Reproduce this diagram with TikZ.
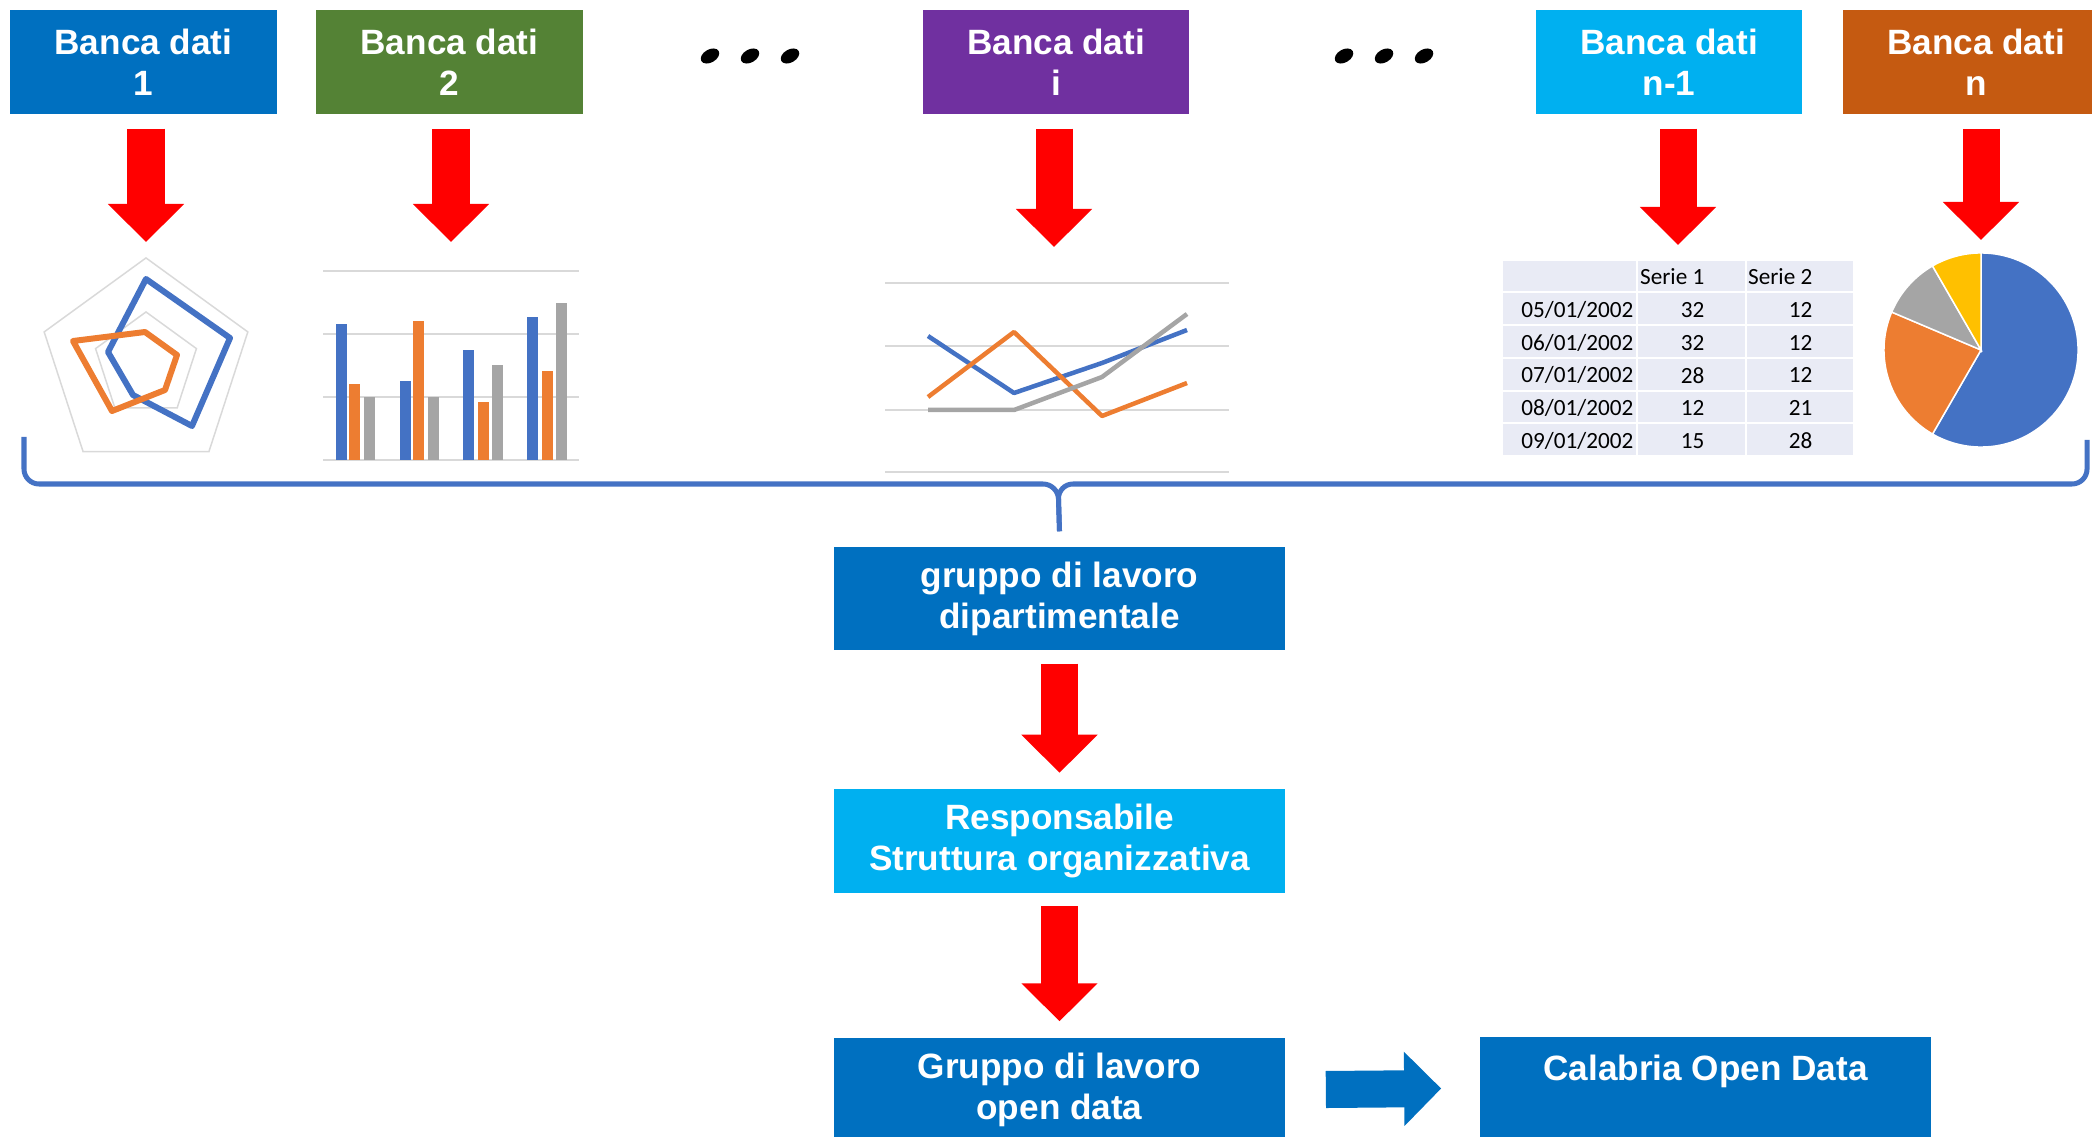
\documentclass[tikz,border=0pt]{standalone}
\usepackage{fontspec}
\setmainfont{Liberation Sans}
\newfontfamily\tabfont{Carlito}
\usetikzlibrary{arrows.meta,calc,positioning}
\definecolor{dbblue}{HTML}{0070C0}
\definecolor{dbgreen}{HTML}{548235}
\definecolor{dbpurple}{HTML}{7030A0}
\definecolor{dbcyan}{HTML}{00B0F0}
\definecolor{dborange}{HTML}{C55A11}
\definecolor{serblue}{HTML}{4472C4}
\definecolor{serorange}{HTML}{ED7D31}
\definecolor{sergray}{HTML}{A5A5A5}
\definecolor{seryellow}{HTML}{FFC000}
\definecolor{tabbg}{HTML}{E9EBF5}
\tikzset{
    dbbox/.style={fill=#1, text=white, font=\fontsize{10}{11.7}\selectfont\bfseries,
        align=center, minimum width=2.66cm, minimum height=1.04cm, inner sep=0pt},
    flowbox/.style={dbbox=#1, minimum width=4.51cm, minimum height=1.03cm},
    redarrow/.style={draw=red, line width=0.37cm, -{Triangle[width=0.74cm, length=0.38cm]}},
    bluearrow/.style={draw=dbblue, line width=0.37cm, -{Triangle[width=0.72cm, length=0.37cm]}},
    gridline/.style={draw=black!15, line width=0.015cm},
    serline/.style={draw=#1, line width=0.045cm, line join=round},
    brace/.style={draw=serblue, line width=0.05cm, rounded corners=0.15cm},
    cell/.style={font=\tabfont\fontsize{6.6}{8}\selectfont, inner sep=0pt, anchor=east}
}

\begin{document}
\begin{tikzpicture}[x=0.01cm, y=-0.01cm]
    \useasboundingbox (0,0) rectangle (2092,1137);

    \node[dbbox=dbblue] (b1) at (143.5,62) {Banca dati\\1};
    \node[dbbox=dbgreen] (b2) at (449.5,62) {Banca dati\\2};
    \node[dbbox=dbpurple] (bi) at (1056,62) {Banca dati\\i};
    \node[dbbox=dbcyan] (bn1) at (1669,62) {Banca dati\\n-1};
    \node[dbbox=dborange] (bn) at (1976,62) {Banca dati\\n};
    \foreach \x in {710,750,790,1344,1384,1424}
        \fill[rotate around={30:(\x,56)}] (\x,56) ellipse[x radius=0.1cm, y radius=0.065cm];

    \coordinate (t1) at (146,242);
    \coordinate (t2) at (451,242);
    \coordinate (ti) at (1054,247);
    \coordinate (tn1) at (1678,245);
    \coordinate (tn) at (1981,240);
    \foreach \b/\t in {b1/t1, b2/t2, bi/ti, bn1/tn1, bn/tn}
        \draw[redarrow] ($(\t |- \b.south)+(0,14)$) -- (\t);

    \begin{scope}[shift={(146,365)}, x=1cm, y=1cm]
        \foreach \r in {1.07,0.53}
            \draw[gridline] (90:\r) -- (18:\r) -- (-54:\r) -- (-126:\r) -- (162:\r) -- cycle;
    \end{scope}
    \draw[serline=serblue, line width=0.06cm] (146,279) -- (230,338) -- (192,426) -- (133,395) -- (108,352) -- cycle;
    \draw[serline=serorange, line width=0.06cm] (73,341) -- (145,332) -- (177,355) -- (165,390) -- (112,411) -- cycle;

    \foreach \y in {271,334,397,460}
        \draw[gridline] (323,\y) -- (579,\y);
    \foreach \x/\t in {336/324, 400/381, 463/350, 527/317}
        \fill[serblue] (\x,460) rectangle ({\x+10.5},\t);
    \foreach \x/\t in {349/384, 413/321, 478/402, 542/371}
        \fill[serorange] (\x,460) rectangle ({\x+10.5},\t);
    \foreach \x/\t in {364/397, 428/397, 492/365, 556/303}
        \fill[sergray] (\x,460) rectangle ({\x+10.5},\t);

    \foreach \y in {283,346,410,472}
        \draw[gridline] (885,\y) -- (1229,\y);
    \draw[serline=serblue] (928,336) -- (1014,393) -- (1102,363) -- (1187,330);
    \draw[serline=serorange] (928,397) -- (1014,332) -- (1102,416) -- (1187,383);
    \draw[serline=sergray] (928,410) -- (1014,410) -- (1102,377) -- (1187,314);

    \fill[tabbg] (1503,261) rectangle (1853,455);
    \foreach \x in {1637,1746}
        \draw[white, line width=0.02cm] (\x,261) -- (\x,455);
    \foreach \y in {292,325,358,391,423}
        \draw[white, line width=0.02cm] (1503,\y) -- (1853,\y);
    \node[cell] (s1) at (1705,277) {Serie 1};
    \node[cell] (s2) at (1813,277) {Serie 2};
    \foreach \dd/\a/\b [count=\i] in {05/32/12, 06/32/12, 07/28/12, 08/12/21, 09/15/28} {
        \node[cell] (d\i) at (1634,{277+\i*32.8}) {\dd/01/2002};
        \node[cell] (a\i) at (1705,{277+\i*32.8}) {\a};
        \node[cell] (c\i) at (1813,{277+\i*32.8}) {\b};
    }

    \begin{scope}[shift={(1981,350)}, x=1cm, y=1cm, draw=white, line width=0.015cm]
        \filldraw[fill=serblue] (0,0) -- (90:0.97) arc[start angle=90, end angle=-120, radius=0.97] -- cycle;
        \filldraw[fill=serorange] (0,0) -- (240:0.97) arc[start angle=240, end angle=157, radius=0.97] -- cycle;
        \filldraw[fill=sergray] (0,0) -- (157:0.97) arc[start angle=157, end angle=120, radius=0.97] -- cycle;
        \filldraw[fill=seryellow] (0,0) -- (120:0.97) arc[start angle=120, end angle=90, radius=0.97] -- cycle;
    \end{scope}

    \node[flowbox=dbblue] (g1) at (1059.5,598.5) {gruppo di lavoro\\dipartimentale};
    \node[flowbox=dbcyan] (g2) at (1059.5,841) {Responsabile\\Struttura organizzativa};
    \node[flowbox=dbblue] (g3) at (1059.5,1089.5) {Gruppo di lavoro\\open data};
    \node[flowbox=dbblue, text height=0.26cm, text depth=0.43cm] (g4) at (1705.5,1088.5) {Calabria Open Data};

    \coordinate (bl) at (24,437);
    \coordinate (br) at (2087,440);
    \coordinate (bc) at (1058,484);
    \coordinate (bm) at ($(g1.north)-(0,15)$);
    \draw[brace] (bl) |- (bc) -- (bm);
    \draw[brace] (br) |- (bc) -- (bm);

    \draw[redarrow] ($(g1.south)+(0,13)$) -- ($(g2.north)-(0,16)$);
    \draw[redarrow] ($(g2.south)+(0,13)$) -- ($(g3.north)-(0,16)$);
    \draw[bluearrow] ($(g3.east)+(40,0)$) -- ($(g4.west)-(38,0)$);
\end{tikzpicture}
\end{document}
